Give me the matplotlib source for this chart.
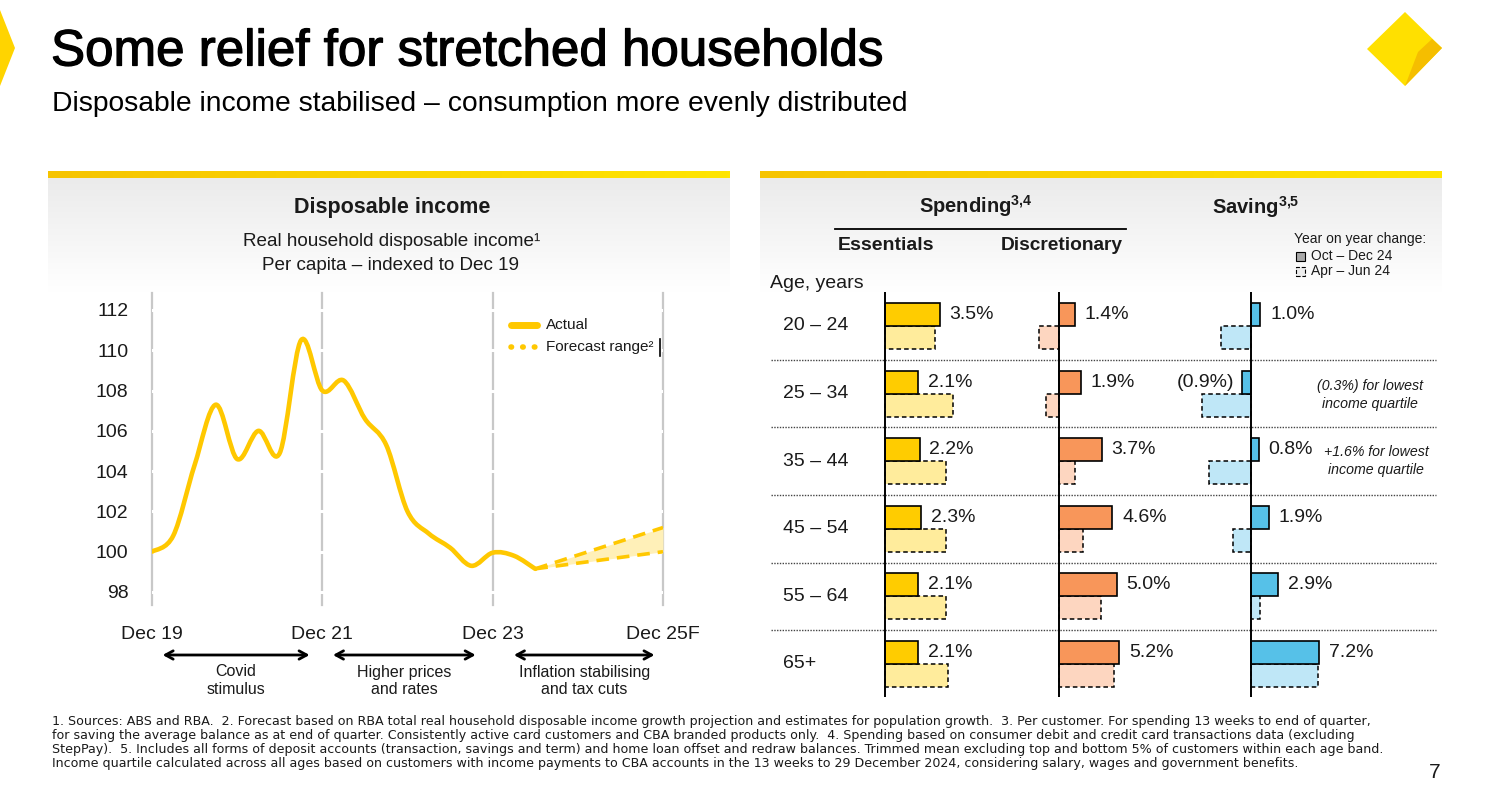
import numpy as np
import matplotlib
matplotlib.use('Agg')
import matplotlib.pyplot as plt
import matplotlib.transforms as mtransforms
import matplotlib.patheffects as pe
from matplotlib.path import Path
from matplotlib.patches import PathPatch, Polygon, Rectangle
from matplotlib.lines import Line2D
from matplotlib.colors import LinearSegmentedColormap

plt.rcParams['font.family'] = ['Liberation Sans', 'DejaVu Sans']
# superscripts on the bold headers
plt.rcParams['mathtext.fontset'] = 'custom'
plt.rcParams['mathtext.rm'] = 'Liberation Sans:bold'
plt.rcParams['mathtext.bf'] = 'Liberation Sans:bold'
plt.rcParams['mathtext.it'] = 'Liberation Sans:bold'

# --- data: disposable income (quarterly index, Dec 19 = 100) ---
quarter_ticks = [0, 8, 16, 24]
quarter_labels = ['Dec 19', 'Dec 21', 'Dec 23', 'Dec 25F']
income_actual = [100.0, 100.8, 104.3, 107.3, 104.6, 106.0, 104.9, 110.5, 108.0, 108.5,
                 106.6, 105.3, 102.0, 100.9, 100.2, 99.3, 99.95, 99.8, 99.15]
forecast_quarters = [18, 24]
forecast_upper = [99.15, 101.2]
forecast_lower = [99.15, 100.0]
period_labels = ['Covid\nstimulus', 'Higher prices\nand rates', 'Inflation stabilising\nand tax cuts']

# --- data: spending and saving by age, yoy change % ---
age_groups = ['20 – 24', '25 – 34', '35 – 44', '45 – 54', '55 – 64', '65+']
essentials_dec = [3.5, 2.1, 2.2, 2.3, 2.1, 2.1]
essentials_jun = [3.2, 4.3, 3.9, 3.9, 3.9, 4.0]
discretionary_dec = [1.4, 1.9, 3.7, 4.6, 5.0, 5.2]
discretionary_jun = [-1.7, -1.1, 1.4, 2.05, 3.6, 4.75]
saving_dec = [1.0, -0.9, 0.8, 1.9, 2.9, 7.2]
saving_jun = [-3.2, -5.2, -4.45, -1.9, 0.9, 7.1]

W, H = 1488, 802
fig = plt.figure(figsize=(W / 100, H / 100), dpi=100)


def fx(px):
    return px / W


def fy(py):
    return 1 - py / H


def pix_axes(x0, y0, x1, y1, **kw):
    return fig.add_axes([fx(x0), fy(y1), (x1 - x0) / W, (y1 - y0) / H], **kw)


def smooth_path(xs, ys):
    # catmull-rom through the quarterly points, drawn as bezier curves
    n = len(xs)
    verts = [(xs[0], ys[0])]
    codes = [Path.MOVETO]
    for i in range(n - 1):
        a, b = max(i - 1, 0), min(i + 2, n - 1)
        c1 = (xs[i] + (xs[i + 1] - xs[a]) / 6, ys[i] + (ys[i + 1] - ys[a]) / 6)
        c2 = (xs[i + 1] - (xs[b] - xs[i]) / 6, ys[i + 1] - (ys[b] - ys[i]) / 6)
        verts += [c1, c2, (xs[i + 1], ys[i + 1])]
        codes += [Path.CURVE4] * 3
    return Path(verts, codes)


def fig_poly(pts, **kw):
    fig.add_artist(Polygon([(fx(x), fy(y)) for x, y in pts], closed=True,
                           transform=fig.transFigure, **kw))


yellow = '#FFC800'
txt = '#1A1A1A'

# ---------- header ----------
fig.text(fx(51), fy(52), 'Some relief for stretched households', fontsize=36.8,
         va='center', ha='left', color='black',
         path_effects=[pe.withStroke(linewidth=0.9, foreground='black')])
fig.text(fx(52), fy(104), 'Disposable income stabilised – consumption more evenly distributed',
         fontsize=20.3, va='center', ha='left', color='black')
fig_poly([(0, 10), (15, 48), (0, 86)], fc='#FFD400', ec='none')
fig_poly([(1405, 12), (1442, 48), (1405, 86), (1367, 49)], fc='#FFE000', ec='none')
fig_poly([(1432, 39), (1442, 48), (1405, 86), (1418, 52)], fc='#F5BE00', ec='none')
fig.text(fx(1441), fy(772), '7', fontsize=15, ha='right', va='center', color=txt)

# panel backgrounds: yellow bar and grey fade
bar_cmap = LinearSegmentedColormap.from_list('bar', ['#F6C400', '#FFE500'])
fade_cmap = LinearSegmentedColormap.from_list('fade', ['#EBEBEB', '#FFFFFF'])
for x0, x1 in [(48, 730), (760, 1442)]:
    bax = pix_axes(x0, 171, x1, 178)
    bax.imshow(np.linspace(0, 1, 200)[None, :], cmap=bar_cmap, aspect='auto')
    bax.axis('off')
    gax = pix_axes(x0, 178, x1, 292)
    gax.imshow(np.linspace(0, 1, 200)[:, None], cmap=fade_cmap, aspect='auto')
    gax.axis('off')

# ---------- left panel: disposable income ----------
fig.text(fx(392), fy(207), 'Disposable income', fontsize=15.5, fontweight='bold',
         ha='center', va='center', color=txt)
fig.text(fx(392), fy(241), 'Real household disposable income¹', fontsize=13.6,
         ha='center', va='center', color=txt)
fig.text(fx(391), fy(265), 'Per capita – indexed to Dec 19', fontsize=13.6,
         ha='center', va='center', color=txt)

ax = pix_axes(152, 293, 663, 605)
px_per_unit = (592 - 310) / 14
ax.set_ylim(98 - 13 / px_per_unit, 112 + 17 / px_per_unit)
ax.set_xlim(0, 24)
ax.patch.set_alpha(0)
for s in ax.spines.values():
    s.set_visible(False)
for q in quarter_ticks:
    ax.axvline(q, color='#C8C8C8', lw=1.6, zorder=1, clip_on=False)
for v in range(98, 113, 2):
    ax.axhline(v, color='white', lw=2.2, zorder=2)

ax.fill_between(forecast_quarters, forecast_lower, forecast_upper, color='#FFF0B8', lw=0, zorder=3)
ax.plot(forecast_quarters, forecast_upper, color=yellow, lw=2.6, ls=(0, (3.5, 2.2)), zorder=4)
ax.plot(forecast_quarters, forecast_lower, color=yellow, lw=2.6, ls=(0, (3.5, 2.2)), zorder=4)
xq = np.arange(len(income_actual))
ax.add_patch(PathPatch(smooth_path(xq, income_actual), fc='none', ec=yellow, lw=3.3,
                       capstyle='round', joinstyle='round', zorder=5))

ax.set_yticks(range(98, 113, 2))
ax.set_xticks(quarter_ticks, quarter_labels)
ax.tick_params(axis='y', length=0, pad=17, labelsize=14, labelcolor=txt)
ax.tick_params(axis='x', length=0, pad=15, labelsize=14, labelcolor=txt)

trans = mtransforms.blended_transform_factory(ax.transData, fig.transFigure)
for (a, b), lab in zip([(0.5, 7.4), (8.5, 15.2), (17.0, 23.6)], period_labels):
    ax.annotate('', xy=(b, fy(655)), xytext=(a, fy(655)), xycoords=trans, textcoords=trans,
                annotation_clip=False,
                arrowprops=dict(arrowstyle='<->,head_length=0.55,head_width=0.3', lw=2.0,
                                color='black', shrinkA=0, shrinkB=0))
    ax.text((a + b) / 2, fy(681), lab, transform=trans, ha='center', va='center',
            fontsize=11.5, linespacing=1.25, color=txt)

# legend
fig.add_artist(Line2D([fx(511), fx(537)], [fy(325)] * 2, lw=5, color=yellow,
                      solid_capstyle='round', transform=fig.transFigure))
fig.add_artist(Line2D([fx(511), fx(537)], [fy(347)] * 2, lw=4, color=yellow,
                      ls=(0, (0.1, 2.0)), dash_capstyle='round', transform=fig.transFigure))
fig.text(fx(546), fy(325), 'Actual', fontsize=11, va='center', color=txt)
fig.text(fx(546), fy(347), 'Forecast range²', fontsize=11, va='center', color=txt)
fig.add_artist(Line2D([fx(660), fx(660)], [fy(339), fy(356)], lw=1.2, color='black',
                      transform=fig.transFigure))

# ---------- right panel: spending and saving ----------
fig.text(fx(976), fy(206), r'Spending$^{3{,}4}$', fontsize=14.5, fontweight='bold',
         ha='center', va='center', color=txt)
fig.text(fx(1256), fy(207), r'Saving$^{3{,}5}$', fontsize=14.5, fontweight='bold',
         ha='center', va='center', color=txt)
fig.add_artist(Line2D([fx(835), fx(1126)], [fy(229)] * 2, lw=1.3, color='black', transform=fig.transFigure))
fig.text(fx(886), fy(245), 'Essentials', fontsize=14, fontweight='bold', ha='center', va='center', color=txt)
fig.text(fx(1062), fy(245), 'Discretionary', fontsize=13.8, fontweight='bold', ha='center', va='center', color=txt)
fig.text(fx(770), fy(283), 'Age, years', fontsize=14, ha='left', va='center', color=txt)

fig.text(fx(1294), fy(239), 'Year on year change:', fontsize=10, ha='left', va='center', color=txt)
fig.add_artist(Rectangle((fx(1296), fy(261)), 9 / W, 9 / H, fc='#A8A8A8', ec='black', lw=0.8,
                         transform=fig.transFigure))
fig.add_artist(Rectangle((fx(1296), fy(276)), 9 / W, 9 / H, fc='#EDEDED', ec='black', lw=0.8, ls='--',
                         transform=fig.transFigure))
fig.text(fx(1311), fy(256), 'Oct – Dec 24', fontsize=10, ha='left', va='center', color=txt)
fig.text(fx(1311), fy(271), 'Apr – Jun 24', fontsize=10, ha='left', va='center', color=txt)

row_px = 67.6
rows_top, rows_bot = 292, 697
bh = 0.34
columns = [
    (essentials_dec, essentials_jun, '#FFCC00', '#FFEC9C', 885, 15.7, 850, 1010),
    (discretionary_dec, discretionary_jun, '#F8965A', '#FDD6C0', 1059, 11.6, 1020, 1170),
    (saving_dec, saving_jun, '#56C1E8', '#BFE7F7', 1251, 9.45, 1180, 1330),
]
yrow = np.arange(len(age_groups))
for k, (dec, jun, dark, light, zero, scale, x0, x1) in enumerate(columns):
    cax = pix_axes(x0, rows_top, x1, rows_bot)
    cax.set_xlim((x0 - zero) / scale, (x1 - zero) / scale)
    top = -(326 - rows_top) / row_px
    cax.set_ylim(top + (rows_bot - rows_top) / row_px, top)
    cax.axis('off')
    cax.barh(yrow - bh / 2, dec, height=bh, color=dark, edgecolor='black', lw=1.2, zorder=3)
    cax.barh(yrow + bh / 2, jun, height=bh, color=light, edgecolor='black', lw=1.1, ls=(0, (3, 2)), zorder=2)
    cax.axvline(0, color='black', lw=1.4, zorder=4)
    for y, v in zip(yrow, dec):
        if v >= 0:
            cax.annotate(f'{v:.1f}%', (v, y - bh / 2), xytext=(7, 0), textcoords='offset points',
                         ha='left', va='center', fontsize=14, color=txt, annotation_clip=False)
        else:
            cax.annotate(f'({abs(v):.1f}%)', (v, y - bh / 2), xytext=(-6, 0), textcoords='offset points',
                         ha='right', va='center', fontsize=14, color=txt, annotation_clip=False)
    if k == 0:
        tr = mtransforms.blended_transform_factory(fig.transFigure, cax.transData)
        for y in yrow[:-1]:
            cax.add_line(Line2D([fx(771), fx(1436)], [y + 0.5] * 2, transform=tr, color='#444444',
                                lw=1.0, ls=(0, (1, 1)), clip_on=False))
        for y, lab in zip(yrow, age_groups):
            cax.text(fx(783), y, lab, transform=tr, ha='left', va='center', fontsize=14, color=txt)

fig.text(fx(1370), fy(395), '(0.3%) for lowest\nincome quartile', fontsize=10.2, style='italic',
         ha='center', va='center', linespacing=1.3, color=txt)
fig.text(fx(1376), fy(461), '+1.6% for lowest\nincome quartile', fontsize=10.2, style='italic',
         ha='center', va='center', linespacing=1.3, color=txt)

# ---------- footnotes ----------
notes = [
    '1. Sources: ABS and RBA.  2. Forecast based on RBA total real household disposable income growth projection and estimates for population growth.  3. Per customer. For spending 13 weeks to end of quarter,',
    'for saving the average balance as at end of quarter. Consistently active card customers and CBA branded products only.  4. Spending based on consumer debit and credit card transactions data (excluding',
    'StepPay).  5. Includes all forms of deposit accounts (transaction, savings and term) and home loan offset and redraw balances. Trimmed mean excluding top and bottom 5% of customers within each age band.',
    'Income quartile calculated across all ages based on customers with income payments to CBA accounts in the 13 weeks to 29 December 2024, considering salary, wages and government benefits.',
]
for i, line in enumerate(notes):
    fig.text(fx(52), fy(721 + 14 * i), line, fontsize=9.1, family='DejaVu Sans',
             ha='left', va='center', color=txt)

fig.savefig('out.png', dpi=100)
